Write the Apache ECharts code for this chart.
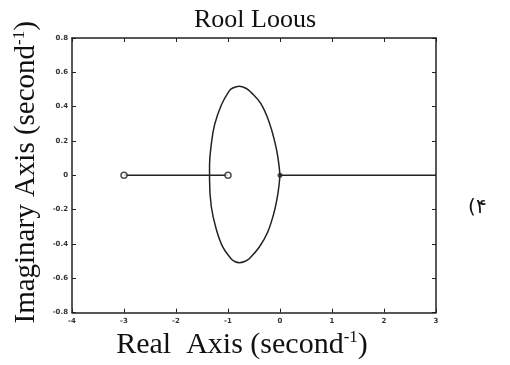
<!DOCTYPE html>
<html>
<head>
<meta charset="utf-8">
<script src="https://cdn.jsdelivr.net/npm/echarts@6/dist/echarts.min.js"></script>
<style>
  html, body { margin: 0; padding: 0; background: #fff; }
  #chart { width: 510px; height: 365px; }
</style>
</head>
<body>
<div id="chart"></div>
<script>
// locus, starting at the cusp (0,0), going up the right side,
// down the left side and back along the lower half
var locusReal = [0, -0.038, -0.101, -0.210, -0.368, -0.559, -0.655, -0.782, -0.908, -0.973, -1.132, -1.260, -1.323, -1.355, -1.355,
                 -1.355, -1.323, -1.227, -1.099, -0.941, -0.870, -0.782, -0.680, -0.592, -0.401, -0.240, -0.115, -0.038, 0]
var locusImag = [0, 0.100, 0.196, 0.311, 0.417, 0.484, 0.507, 0.519, 0.509, 0.493, 0.407, 0.292, 0.176, 0.061, 0,
                 -0.025, -0.179, -0.313, -0.419, -0.486, -0.502, -0.509, -0.502, -0.486, -0.419, -0.333, -0.217, -0.102, 0]

// branches on the real axis
var leftBranchReal = [-3, -1]
var rightBranchReal = [0, 3]

// markers
var zeroReal = [-3, -1]
var poleReal = [0]

var xTicks = [-4, -3, -2, -1, 0, 1, 2, 3]
var yTicks = [-0.8, -0.6, -0.4, -0.2, 0, 0.2, 0.4, 0.6, 0.8]

function pairs(xs, ys) {
    var out = []
    for (let i = 0; i < xs.length; i++) out.push([xs[i], ys ? ys[i] : 0])
    return out
}

var chart = echarts.init(document.getElementById('chart'))
var ink = '#222'
var serif = 'Liberation Serif'

var tickLabel = { fontSize: 7, color: '#333', fontWeight: 'bold', fontFamily: 'DejaVu Sans' }
var frameLine = { show: true, onZero: false, lineStyle: { color: ink, width: 1.5 } }
var frameTick = { show: true, inside: true, length: 4, lineStyle: { color: ink } }
var supStyle = { fontFamily: serif, fontSize: 17, color: '#111', verticalAlign: 'top', padding: [0, 0, 14, 0] }

var option = {
    backgroundColor: '#fff',
    animation: false,
    title: {
        text: 'Rool Loous',
        left: 'center',
        top: 2,
        textStyle: { fontFamily: serif, fontSize: 26, fontWeight: 'normal', color: '#111' }
    },
    grid: { left: 72, right: 74, top: 38, bottom: 49 },
    xAxis: [
        {
            type: 'value',
            min: xTicks[0], max: xTicks[xTicks.length - 1], interval: 1,
            axisLine: frameLine,
            axisTick: frameTick,
            axisLabel: Object.assign({ margin: 5 }, tickLabel),
            splitLine: { show: false },
            name: 'Real  Axis (second{sup|-1})',
            nameLocation: 'middle',
            nameGap: 14,
            nameTextStyle: {
                fontFamily: serif, fontSize: 30, color: '#111', verticalAlign: 'top',
                padding: [0, 24, 0, 0],
                rich: { sup: supStyle }
            }
        },
        {
            type: 'value', position: 'top',
            min: xTicks[0], max: xTicks[xTicks.length - 1], interval: 1,
            axisLine: frameLine,
            axisTick: frameTick,
            axisLabel: { show: false },
            splitLine: { show: false }
        }
    ],
    yAxis: [
        {
            type: 'value',
            min: yTicks[0], max: yTicks[yTicks.length - 1], interval: 0.2,
            axisLine: frameLine,
            axisTick: frameTick,
            axisLabel: Object.assign({ margin: 4, formatter: function (v) { return String(+v.toFixed(1)) } }, tickLabel),
            splitLine: { show: false },
            name: 'Imaginary Axis (second{sup|-1})',
            nameLocation: 'middle',
            nameGap: 30,
            nameTextStyle: {
                fontFamily: serif, fontSize: 29, color: '#111',
                padding: [0, 0, 0, 6],
                rich: { sup: supStyle }
            }
        },
        {
            type: 'value', position: 'right',
            min: yTicks[0], max: yTicks[yTicks.length - 1], interval: 0.2,
            axisLine: frameLine,
            axisTick: frameTick,
            axisLabel: { show: false },
            splitLine: { show: false }
        }
    ],
    series: [
        {
            type: 'line',
            data: pairs(locusReal, locusImag),
            smooth: 0.4,
            showSymbol: false,
            lineStyle: { color: ink, width: 1.5 }
        },
        {
            type: 'line',
            data: pairs(leftBranchReal),
            showSymbol: false,
            lineStyle: { color: ink, width: 1.5 }
        },
        {
            type: 'line',
            data: pairs(rightBranchReal),
            showSymbol: false,
            lineStyle: { color: ink, width: 1.5 }
        },
        {
            type: 'scatter',
            data: pairs(zeroReal),
            symbol: 'circle',
            symbolSize: 6,
            itemStyle: { color: '#fff', borderColor: ink, borderWidth: 1.5 },
            z: 5
        },
        {
            type: 'scatter',
            data: pairs(poleReal),
            symbol: 'circle',
            symbolSize: 5,
            itemStyle: { color: ink },
            z: 5
        }
    ],
    graphic: [
        {
            type: 'text',
            left: 468, top: 198,
            style: { text: '(', font: '20px "DejaVu Sans"', fill: '#111' }
        },
        {
            type: 'text',
            left: 476, top: 198,
            style: { text: '\u06F4', font: '20px "DejaVu Sans"', fill: '#111' }
        }
    ]
}
chart.setOption(option)
</script>
</body>
</html>
